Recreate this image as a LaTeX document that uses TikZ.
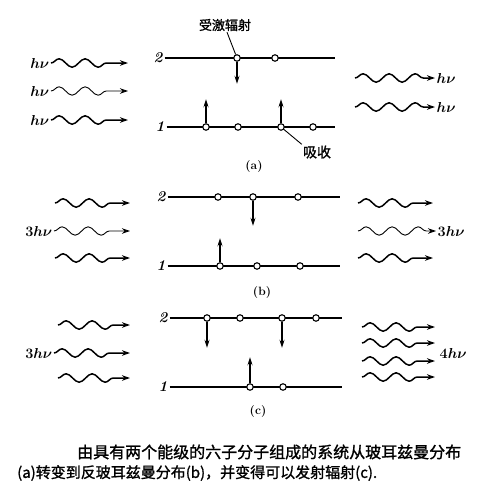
\documentclass[tikz,border=0pt]{standalone}
\usepackage{fontspec}
\usetikzlibrary{arrows.meta, decorations.pathmorphing}
\newfontfamily\cjk{Noto Sans CJK SC}[FakeBold=1.2]

\tikzset{
  level/.style={line width=2.8pt},
  mol/.style={circle, draw, line width=1.1pt, fill=white, inner sep=0pt, minimum size=6.5pt},
  jump/.style={line width=1.3pt, -{Stealth[length=8pt,width=5pt]}},
  wave/.style={line width=1.5pt, -{Stealth[length=8pt,width=5.5pt]}, decorate,
    decoration={snake, amplitude=4.2pt, segment length=26pt, post length=9pt}},
  thinwave/.style={wave, line width=0.9pt},
  lvl/.style={font=\fontsize{15}{15}\selectfont\bfseries\itshape, inner sep=2pt},
  hv/.style={font=\fontsize{15}{15}\selectfont\boldmath, inner sep=1.5pt},
  cjklabel/.style={font=\fontsize{13}{13}\selectfont\cjk, inner sep=1pt},
  tag/.style={font=\fontsize{12}{12}\selectfont\bfseries},
  caption/.style={font=\fontsize{15}{15}\selectfont\cjk, anchor=west, inner sep=0pt}
}

\begin{document}
\begin{tikzpicture}[x=1pt, y=-1pt]
\useasboundingbox (0,0) rectangle (484,488);

% panel (a)
\node[lvl] (a2) at (158,58) {2};
\node[lvl] (a1) at (160,127) {1};
\draw[level] (a2.east) -- (335,58);
\draw[level] (a1.east) -- (335,127);
\node[mol] (a-u1) at (237,58) {};
\node[mol] (a-u2) at (275,58) {};
\foreach \x [count=\i] in {206,238,281,313}
  \node[mol] (a-d\i) at (\x,127) {};
\draw[jump] (a-u1.south) -- ++(0,22);
\draw[jump] (a-d1.north) -- ++(0,-24);
\draw[jump] (a-d3.north) -- ++(0,-24);
\node[cjklabel] (stim) at (225,25) {受激辐射};
\draw[line width=0.9pt] ([xshift=2pt]stim.south) -- (a-u1);
\node[cjklabel, font=\fontsize{14}{14}\selectfont\cjk] (absorb) at (317,152) {吸收};
\draw[line width=0.9pt] (a-d3) -- (absorb.north west);
\node[tag] (a-tag) at (254,167) {(a)};
\foreach \y [count=\i] in {63,91,120} {
  \node[hv, anchor=east] (a-in\i) at (51,\y) {$h\nu$};
}
\draw[wave] (a-in1.east) -- (128,63);
\draw[thinwave] (a-in2.east) -- (128,91);
\draw[wave] (a-in3.east) -- (128,120);
\foreach \y [count=\i] in {78,107} {
  \node[hv, anchor=west] (a-out\i) at (435,\y) {$h\nu$};
  \draw[wave] (355,\y) -- (a-out\i.west);
}

% panel (b)
\node[lvl] (b2) at (161,197) {2};
\node[lvl] (b1) at (161,266) {1};
\draw[level] (b2.east) -- (340,197);
\draw[level] (b1.east) -- (340,266);
\foreach \x [count=\i] in {218,253,298}
  \node[mol] (b-u\i) at (\x,197) {};
\foreach \x [count=\i] in {220,257,300}
  \node[mol] (b-d\i) at (\x,266) {};
\draw[jump] (b-u2.south) -- ++(0,25);
\draw[jump] (b-d1.north) -- ++(0,-24);
\node[tag] (b-tag) at (262,293) {(b)};
\node[hv, anchor=east] (b-in) at (54,231) {$3h\nu$};
\draw[wave] (55,203) -- (130,203);
\draw[thinwave] (b-in.east) -- (130,231);
\draw[wave] (55,258) -- (130,258);
\node[hv, anchor=west] (b-out) at (436,231) {$3h\nu$};
\draw[wave] (358,203) -- (433,203);
\draw[thinwave] (358,231) -- (b-out.west);
\draw[wave] (358,258) -- (433,258);

% panel (c)
\node[lvl] (c2) at (163,318) {2};
\node[lvl] (c1) at (163,387) {1};
\draw[level] (c2.east) -- (342,318);
\draw[level] (c1.east) -- (342,387);
\foreach \x [count=\i] in {207,240,282,316}
  \node[mol] (c-u\i) at (\x,318) {};
\foreach \x [count=\i] in {250,283}
  \node[mol] (c-d\i) at (\x,387) {};
\draw[jump] (c-u1.south) -- ++(0,26);
\draw[jump] (c-u3.south) -- ++(0,26);
\draw[jump] (c-d1.north) -- ++(0,-26);
\node[tag] (c-tag) at (258,412) {(c)};
\node[hv, anchor=east] (c-in) at (54,353) {$3h\nu$};
\draw[wave] (58,325) -- (130,325);
\draw[wave] (c-in.east) -- (130,353);
\draw[wave] (58,378) -- (130,378);
\node[hv, anchor=west] (c-out) at (438,353) {$4h\nu$};
\foreach \y in {327,343,361,377}
  \draw[wave] (362,\y) -- (435,\y);

% caption
\node[caption, font=\fontsize{16}{16}\selectfont\cjk] (cap1) at (77,452) {由具有两个能级的六子分子组成的系统从玻耳兹曼分布};
\node[caption] (cap2) at (17,473) {(a)转变到反玻耳兹曼分布(b)，并变得可以发射辐射(c).};
\end{tikzpicture}
\end{document}
